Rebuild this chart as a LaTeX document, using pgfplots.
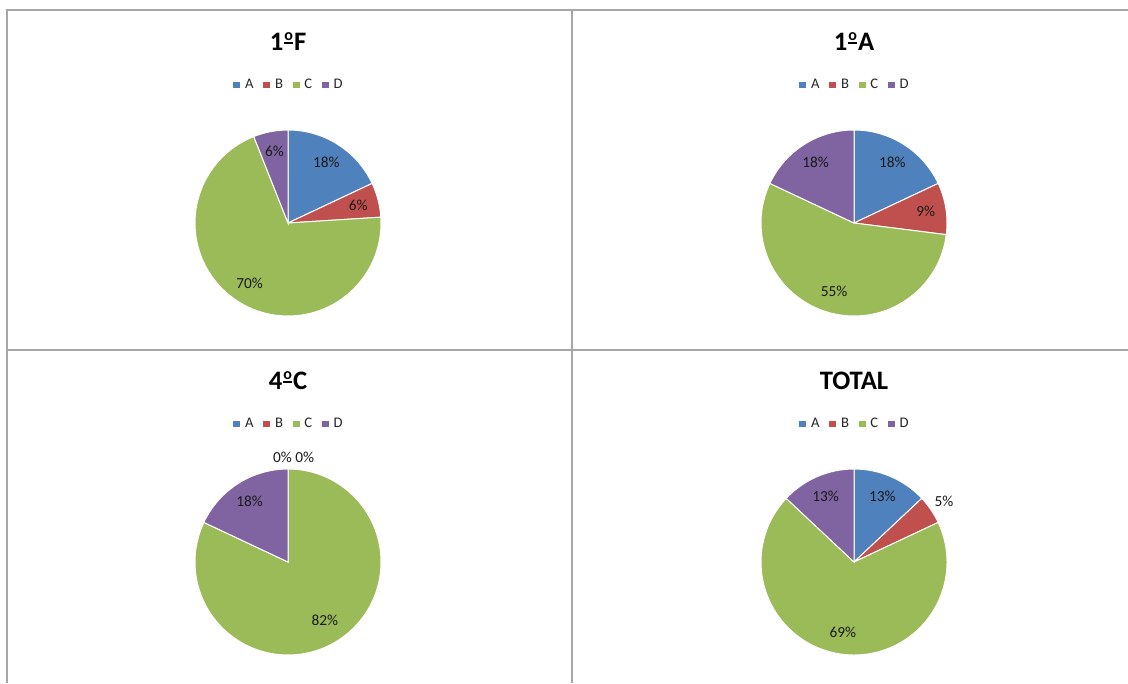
\documentclass[border=0pt]{standalone}
\usepackage{pgfplots}
\pgfplotsset{compat=1.18}
\usepackage{pgfplotstable}
\usepackage{fontspec}
\setmainfont{Carlito}

\definecolor{colA}{HTML}{4F81BD}
\definecolor{colB}{HTML}{C0504D}
\definecolor{colC}{HTML}{9BBB59}
\definecolor{colD}{HTML}{8064A2}
\definecolor{framegray}{HTML}{A6A6A6}

% underlined masculine ordinal, as in the reference titles
\newcommand{\ord}{{\setbox0\hbox{\fontsize{12}{12}\selectfont o}%
  \kern0.04em\rlap{\raisebox{0.22em}{\rule{\wd0}{0.075em}}}\raisebox{0.36em}{\box0}\kern0.04em}}

% percentages of each group (A, B, C, D)
\pgfplotstableread{
group A B C D
1F 18 6 70 6
1A 18 9 55 18
4C 0 0 82 18
TOTAL 13 5 69 13
}\piedata

\newcommand{\pielabelfont}{\fontsize{11.5}{13}\selectfont\color{black!90}}

% #1 start angle, #2 value, #3 colour, #4 label distance factor (0 = none)
\newcommand{\slice}[4]{%
  \pgfmathsetmacro\se{#1-3.6*#2}%
  \pgfmathsetmacro\sm{#1-1.8*#2}%
  \fill[#3, draw=white, line width=0.75pt] (axis cs:0,0) -- (axis cs:{cos(#1)},{sin(#1)})
     arc[start angle=#1, end angle=\se, radius=69.75pt] -- cycle;
  \ifdim #4pt>0pt
    \node[font=\pielabelfont] at (axis cs:{#4*cos(\sm)},{#4*sin(\sm)}) {#2\%};
  \fi
}

% #1 row, #2..#5 label factors for A..D
\newcommand{\drawpie}[5]{%
  \pgfplotsextra{%
    \pgfplotstablegetelem{#1}{A}\of\piedata\let\vA\pgfplotsretval
    \pgfplotstablegetelem{#1}{B}\of\piedata\let\vB\pgfplotsretval
    \pgfplotstablegetelem{#1}{C}\of\piedata\let\vC\pgfplotsretval
    \pgfplotstablegetelem{#1}{D}\of\piedata\let\vD\pgfplotsretval
    \pgfmathsetmacro\stA{90}%
    \pgfmathsetmacro\stB{\stA-3.6*\vA}%
    \pgfmathsetmacro\stC{\stB-3.6*\vB}%
    \pgfmathsetmacro\stD{\stC-3.6*\vC}%
    \slice{\stA}{\vA}{colA}{#2}%
    \slice{\stB}{\vB}{colB}{#3}%
    \slice{\stC}{\vC}{colC}{#4}%
    \slice{\stD}{\vD}{colD}{#5}%
  }%
}

\pgfplotsset{
  every axis title shift=0pt,
  pieaxis/.style={
    hide axis, scale only axis, clip=false,
    width=139.5pt, height=139.5pt,
    xmin=-1, xmax=1, ymin=-1, ymax=1,
    anchor=center,
    title style={at={(0.5,1.430)}, anchor=base, inner sep=0pt,
      font=\fontsize{20}{22}\selectfont\bfseries},
    legend style={at={(0.5,1.242)}, anchor=center, draw=none, fill=none,
      font=\fontsize{11}{12}\selectfont\color{black!85},
      legend columns=-1,
      nodes={inner sep=0pt, anchor=west},
      /tikz/every odd column/.append style={column sep=3.6pt},
      /tikz/every even column/.append style={column sep=7.2pt}},
    legend image code/.code={\fill[##1] (0pt,-2.6pt) rectangle (5.25pt,2.6pt);},
  },
}

\newcommand{\pielegend}{%
  \addlegendimage{fill=colA, draw=none}\addlegendentry{A}
  \addlegendimage{fill=colB, draw=none}\addlegendentry{B}
  \addlegendimage{fill=colC, draw=none}\addlegendentry{C}
  \addlegendimage{fill=colD, draw=none}\addlegendentry{D}
}

\begin{document}
\begin{tikzpicture}
\useasboundingbox (0,0) rectangle (846pt,512.25pt);
% chart frames
\draw[framegray, line width=1.5pt] (5.25pt,0) -- (5.25pt,504.4pt) -- (846pt,504.4pt);
\draw[framegray, line width=1.5pt] (429pt,0) -- (429pt,504.4pt);
\draw[framegray, line width=1.5pt] (5.25pt,249.75pt) -- (846pt,249.75pt);

\begin{axis}[pieaxis, at={(216pt,345pt)}, title={1\ord F}]
\pielegend
\drawpie{0}{0.77}{0.78}{0.77}{0.78}
\end{axis}

\begin{axis}[pieaxis, at={(640.5pt,345pt)}, title={1\ord A}]
\pielegend
\drawpie{1}{0.77}{0.78}{0.77}{0.77}
\end{axis}

\begin{axis}[pieaxis, at={(216pt,90.75pt)}, title={4\ord C}]
\pielegend
\drawpie{2}{0}{0}{0.74}{0.77}
\node[font=\pielabelfont] at (axis cs:-0.06,1.13) {0\%};
\node[font=\pielabelfont] at (axis cs:0.18,1.13) {0\%};
\end{axis}

\begin{axis}[pieaxis, at={(640.5pt,90.75pt)}, title={TOTAL}]
\pielegend
\drawpie{3}{0.77}{1.17}{0.77}{0.77}
\end{axis}
\end{tikzpicture}
\end{document}
